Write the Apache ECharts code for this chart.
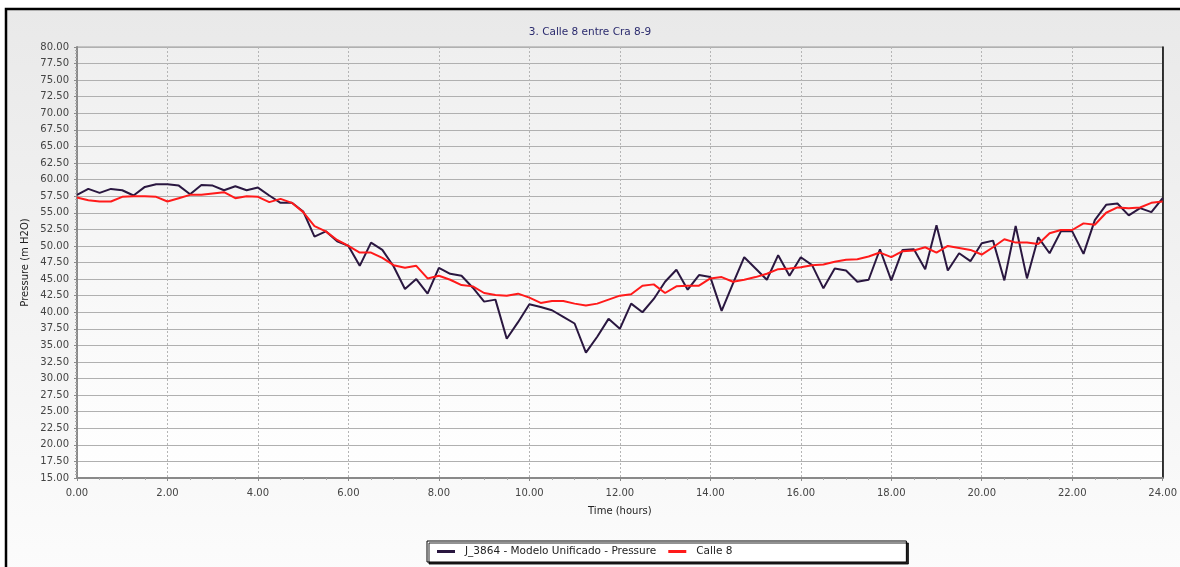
<!DOCTYPE html>
<html>
<head>
<meta charset="utf-8">
<script src="https://cdn.jsdelivr.net/npm/echarts@6/dist/echarts.min.js"></script>
<style>
html,body{margin:0;padding:0;background:#fff;}
#chart{width:1180px;height:567px;}
</style>
</head>
<body>
<div id="chart"></div>
<script>
const chartTitle = '3. Calle 8 entre Cra 8-9';
const xAxisName = 'Time (hours)';
const yAxisName = 'Pressure (m H2O)';
const seriesNames = ['J_3864 - Modelo Unificado - Pressure', 'Calle 8'];
const seriesColors = ['#2a1740', '#ff1a1a'];
const timeStepHours = 0.25;

const modelPressure = [
  57.7, 58.6, 58.0, 58.6, 58.4, 57.6, 58.9, 59.3, 59.3, 59.1, 57.8, 59.2, 59.1, 58.4, 59.0, 58.4,
  58.8, 57.6, 56.5, 56.5, 55.2, 51.4, 52.2, 50.7, 50.0, 47.0, 50.5, 49.4, 46.9, 43.5, 45.0, 42.8,
  46.7, 45.8, 45.5, 43.7, 41.6, 41.9, 36.0, 38.5, 41.2, 40.8, 40.3, 39.3, 38.3, 33.9, 36.3, 39.0,
  37.5, 41.3, 40.0, 42.0, 44.6, 46.4, 43.4, 45.6, 45.3, 40.2, 44.3, 48.3, 46.6, 44.9, 48.6, 45.5,
  48.3, 47.1, 43.6, 46.6, 46.3, 44.6, 44.9, 49.5, 44.8, 49.4, 49.5, 46.5, 53.1, 46.3, 48.9, 47.7,
  50.4, 50.8, 44.8, 53.0, 45.1, 51.3, 48.9, 52.2, 52.2, 48.8, 53.9, 56.2, 56.4, 54.6, 55.7, 55.1,
  57.2
];

const calle8Pressure = [
  57.3, 56.9, 56.7, 56.7, 57.4, 57.5, 57.5, 57.4, 56.7, 57.2, 57.7, 57.7, 57.9, 58.1, 57.2, 57.5,
  57.4, 56.6, 57.1, 56.5, 55.1, 53.0, 52.2, 50.9, 50.0, 49.0, 49.0, 48.2, 47.1, 46.7, 47.0, 45.1,
  45.5, 44.9, 44.1, 43.9, 42.9, 42.6, 42.5, 42.8, 42.2, 41.4, 41.7, 41.7, 41.3, 41.0, 41.3, 41.9,
  42.5, 42.7, 44.0, 44.2, 42.9, 43.9, 44.0, 44.0, 45.1, 45.3, 44.6, 44.9, 45.3, 45.8, 46.5, 46.6,
  46.8, 47.1, 47.2, 47.6, 47.9, 48.0, 48.4, 49.0, 48.3, 49.2, 49.3, 49.8, 49.0, 50.0, 49.7, 49.4,
  48.7, 49.8, 51.0, 50.5, 50.5, 50.3, 51.9, 52.4, 52.4, 53.4, 53.2, 55.0, 55.8, 55.7, 55.8, 56.5,
  56.7
];

const xMin = 0, xMax = 24, xInterval = 2;
const yMin = 15, yMax = 80, yInterval = 2.5;

function toPairs(values) {
  return values.map((v, i) => [i * timeStepHours, v]);
}

const font = 'DejaVu Sans';
const chart = echarts.init(document.getElementById('chart'), null, {renderer: 'canvas'});

chart.setOption({
  backgroundColor: '#ffffff',
  animation: false,
  graphic: [{
    type: 'rect',
    z: -10,
    shape: {x: 6, y: 9, width: 1200, height: 600},
    style: {
      fill: new echarts.graphic.LinearGradient(0, 0, 0, 1, [
        {offset: 0, color: '#e9e9e9'},
        {offset: 1, color: '#fdfdfd'}
      ]),
      stroke: '#000',
      lineWidth: 2.5
    }
  }],
  title: {
    text: chartTitle,
    left: 'center',
    top: 22,
    textStyle: {fontFamily: font, fontSize: 10.5, fontWeight: 'normal', color: '#2b2b6e'}
  },
  legend: {
    left: 427,
    top: 541,
    orient: 'horizontal',
    backgroundColor: '#ffffff',
    borderColor: '#000',
    borderWidth: 1,
    shadowColor: 'rgba(0,0,0,0.85)',
    shadowOffsetX: 2,
    shadowOffsetY: 2,
    shadowBlur: 0,
    padding: [5, 174, 5, 10],
    itemGap: 12,
    itemWidth: 18,
    itemHeight: 3,
    textStyle: {fontFamily: font, fontSize: 10.5, color: '#222', padding: [0, 0, 0, 5]},
    data: seriesNames.map((n, i) => ({
      name: n,
      icon: 'rect',
      itemStyle: {color: seriesColors[i]}
    }))
  },
  grid: {
    left: 77,
    right: 16,
    top: 47,
    bottom: 89,
    show: true,
    borderColor: '#9a9a9a',
    borderWidth: 1,
    backgroundColor: new echarts.graphic.LinearGradient(0, 0, 0, 1, [
      {offset: 0, color: '#efefef'},
      {offset: 1, color: '#ffffff'}
    ])
  },
  xAxis: {
    type: 'value',
    min: xMin,
    max: xMax,
    interval: xInterval,
    name: xAxisName,
    nameLocation: 'middle',
    nameGap: 28,
    nameTextStyle: {fontFamily: font, fontSize: 10, color: '#222'},
    axisLine: {lineStyle: {color: '#8a8a8a', width: 2}},
    axisTick: {show: true, length: 3, lineStyle: {color: '#8a8a8a'}},
    minorTick: {show: true, splitNumber: 4, length: 2, lineStyle: {color: '#aaa'}},
    axisLabel: {fontFamily: font, fontSize: 10, color: '#444', margin: 10,
      formatter: v => v.toFixed(2)},
    splitLine: {show: true, lineStyle: {color: '#b5b5b5', type: [2, 2], width: 1}}
  },
  yAxis: [{
    type: 'value',
    min: yMin,
    max: yMax,
    interval: yInterval,
    name: yAxisName,
    nameLocation: 'middle',
    nameGap: 47,
    nameMoveOverlap: false,
    nameRotate: 90,
    nameTextStyle: {fontFamily: font, fontSize: 10, color: '#222'},
    axisLine: {show: true, lineStyle: {color: '#8a8a8a', width: 2}},
    axisTick: {show: true, length: 3, lineStyle: {color: '#8a8a8a'}},
    minorTick: {show: true, splitNumber: 5, length: 2, lineStyle: {color: '#aaa'}},
    axisLabel: {fontFamily: font, fontSize: 10, color: '#444', margin: 8,
      formatter: v => v.toFixed(2)},
    splitLine: {show: true, lineStyle: {color: '#b0b0b0', width: 1}}
  }, {
    type: 'value',
    position: 'right',
    min: yMin,
    max: yMax,
    interval: yInterval,
    axisLine: {show: true, lineStyle: {color: '#000', width: 1.5}},
    axisTick: {show: false},
    axisLabel: {show: false},
    splitLine: {show: false}
  }],
  series: [{
    name: seriesNames[0],
    type: 'line',
    data: toPairs(modelPressure),
    symbol: 'none',
    lineStyle: {color: seriesColors[0], width: 2},
    itemStyle: {color: seriesColors[0]}
  }, {
    name: seriesNames[1],
    type: 'line',
    data: toPairs(calle8Pressure),
    symbol: 'none',
    lineStyle: {color: seriesColors[1], width: 2},
    itemStyle: {color: seriesColors[1]}
  }]
});
</script>
</body>
</html>
